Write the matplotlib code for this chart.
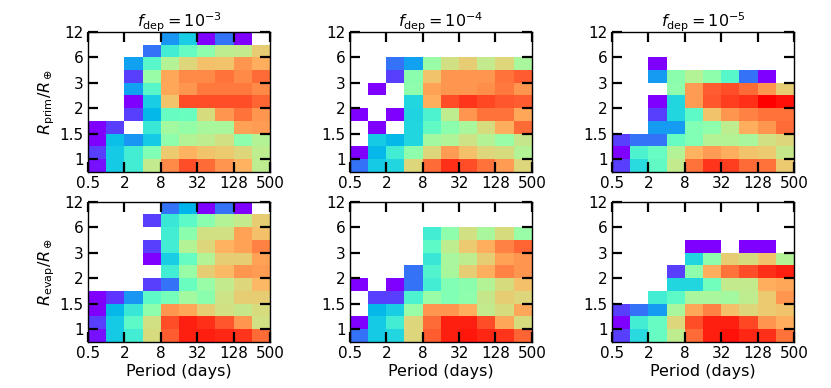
import numpy as np
import matplotlib
matplotlib.use("Agg")
import matplotlib.pyplot as plt

N = None
# x: period bins (factor 2 from 0.5 to 512 days), y: radius bins (index)
period_ticks = ["0.5", "2", "8", "32", "128", "500"]
radius_ticks = ["1", "1.5", "2", "3", "6", "12"]
titles = [r"$f_{\rm dep}=10^{-3}$", r"$f_{\rm dep}=10^{-4}$", r"$f_{\rm dep}=10^{-5}$"]
ylabels = [r"$R_{\rm prim}/R_\oplus$", r"$R_{\rm evap}/R_\oplus$"]

# normalised occurrence (colour scale 0..1); rows listed top (row 10) -> bottom (row 0)
prim_3 = [
    [N, N, N, N, .20, .30, .00, .15, .00, N],
    [N, N, N, .15, .38, .45, .53, .62, .63, .70],
    [N, N, .22, .42, .60, .68, .73, .72, .80, .76],
    [N, N, .08, .55, .77, .82, .82, .85, .82, .86],
    [N, N, .22, .42, .77, .80, .84, .84, .84, .82],
    [N, N, .00, .30, .72, .90, .90, .90, .90, .87],
    [N, N, .08, .26, .45, .46, .67, .80, .85, .80],
    [.00, .08, N, .36, .57, .54, .58, .58, .78, .79],
    [.00, .27, .20, .29, .53, .60, .62, .66, .53, .60],
    [.08, .29, .38, .50, .71, .75, .72, .71, .68, .62],
    [.02, .29, .38, .63, .82, .90, .86, .80, .75, .62],
]
prim_4 = [
    [N] * 10,
    [N] * 10,
    [N, N, .15, .22, .55, .66, .70, .63, .68, .58],
    [N, N, .08, .52, .72, .80, .80, .80, .85, .88],
    [N, .00, N, .53, .78, .80, .80, .81, .84, .80],
    [N, N, N, .32, .76, .90, .93, .91, .89, .88],
    [.00, N, .00, .31, .40, .62, .80, .85, .85, .77],
    [N, .00, N, .32, .44, .52, .58, .67, .76, .86],
    [N, .29, .26, .32, .57, .59, .65, .60, .55, .64],
    [.00, .26, .38, .53, .68, .79, .73, .68, .67, .60],
    [.15, .29, .32, .68, .86, .94, .90, .85, .79, .68],
]
prim_5 = [
    [N] * 10,
    [N] * 10,
    [N, N, .00, N, N, N, N, N, N, N],
    [N, N, .21, .52, .60, .53, .42, .15, .00, N],
    [N, N, N, .53, .79, .88, .90, .86, .80, .70],
    [N, N, .00, .32, .79, .89, .92, .94, 1.0, .98],
    [N, N, .08, .32, .43, .72, .80, .83, .85, .85],
    [N, N, .21, .21, .50, .53, .62, .76, .80, .86],
    [.08, .15, .15, .45, .50, .60, .60, .58, .66, .68],
    [.00, .40, .45, .60, .75, .79, .76, .72, .71, .64],
    [.08, .33, .44, .63, .85, .93, .92, .86, .85, .71],
]
evap_3 = [
    [N, N, N, N, .15, .25, .00, .15, .00, N],
    [N, N, N, .08, .36, .43, .52, .60, .63, .70],
    [N, N, N, N, .38, .52, .66, .66, .78, .73],
    [N, N, N, .08, .38, .60, .68, .75, .78, .83],
    [N, N, N, .00, .30, .45, .60, .70, .70, .78],
    [N, N, N, N, .38, .55, .70, .74, .80, .79],
    [N, N, N, .08, .15, .46, .55, .63, .68, .74],
    [.00, .07, .20, .43, .48, .57, .52, .65, .70, .70],
    [.00, .26, .36, .53, .80, .77, .70, .66, .64, .67],
    [.08, .29, .43, .66, .90, .96, .94, .89, .80, .66],
    [.02, .29, .38, .67, .88, .96, .96, .95, .93, .86],
]
evap_4 = [
    [N] * 10,
    [N] * 10,
    [N, N, N, N, .38, .53, .66, .58, .67, .55],
    [N, N, N, N, .43, .62, .71, .76, .83, .87],
    [N, N, N, N, .36, .58, .62, .70, .78, .80],
    [N, N, N, .15, .41, .58, .70, .76, .83, .80],
    [.00, N, .00, .15, .38, .50, .52, .60, .67, .73],
    [N, .08, .08, .40, .55, .50, .53, .64, .70, .68],
    [N, .26, .30, .55, .80, .80, .76, .63, .67, .77],
    [.00, .29, .38, .68, .86, .96, .96, .90, .77, .67],
    [.15, .29, .32, .68, .88, .96, .97, .95, .93, .87],
]
evap_5 = [
    [N] * 10,
    [N] * 10,
    [N] * 10,
    [N, N, N, N, .00, .00, N, .00, .00, N],
    [N, N, N, N, .32, .53, .70, .67, .72, .60],
    [N, N, N, .08, .53, .76, .85, .90, .94, .96],
    [N, N, N, .32, .32, .47, .63, .63, .76, .77],
    [N, N, .38, .43, .58, .58, .57, .62, .71, .80],
    [.08, .15, .21, .58, .77, .83, .73, .68, .71, .72],
    [.00, .38, .45, .68, .90, .96, .96, .91, .80, .76],
    [.08, .33, .45, .62, .86, .96, .98, .95, .94, .85],
]

grids = [[prim_3, prim_4, prim_5], [evap_3, evap_4, evap_5]]

fig = plt.figure(figsize=(8.31, 3.88), dpi=100)
lefts = [0.106, 0.421, 0.7365]
bottoms = [0.557, 0.119]
w, h = 0.219, 0.361

for r in range(2):
    for c in range(3):
        ax = fig.add_axes([lefts[c], bottoms[r], w, h])
        data = np.array([[np.nan if v is None else v for v in row] for row in grids[r][c]], dtype=float)
        data = data[::-1]  # bottom row first
        ny, nx = data.shape
        ax.pcolormesh(np.arange(nx + 1), np.arange(ny + 1), np.ma.masked_invalid(data),
                      cmap="rainbow", vmin=0, vmax=1, shading="flat")
        ax.set_xlim(0, nx)
        ax.set_ylim(0, ny)
        ax.set_xticks(np.arange(0, nx + 1, 2))
        ax.set_xticklabels(period_ticks)
        ax.set_yticks(np.arange(1, ny + 1, 2))
        ax.set_yticklabels(radius_ticks)
        ax.tick_params(direction="in", length=7, width=1.6, top=True, right=True,
                       labelsize=11, pad=3, color="black")
        for s in ax.spines.values():
            s.set_linewidth(1.0)
        if r == 0:
            ax.set_title(titles[c], fontsize=11.5, pad=3)
        else:
            ax.set_xlabel("Period (days)", fontsize=11.5, labelpad=2)
        if c == 0:
            ax.set_ylabel(ylabels[r], fontsize=11.5, labelpad=2)

fig.savefig("out.png", dpi=100)
